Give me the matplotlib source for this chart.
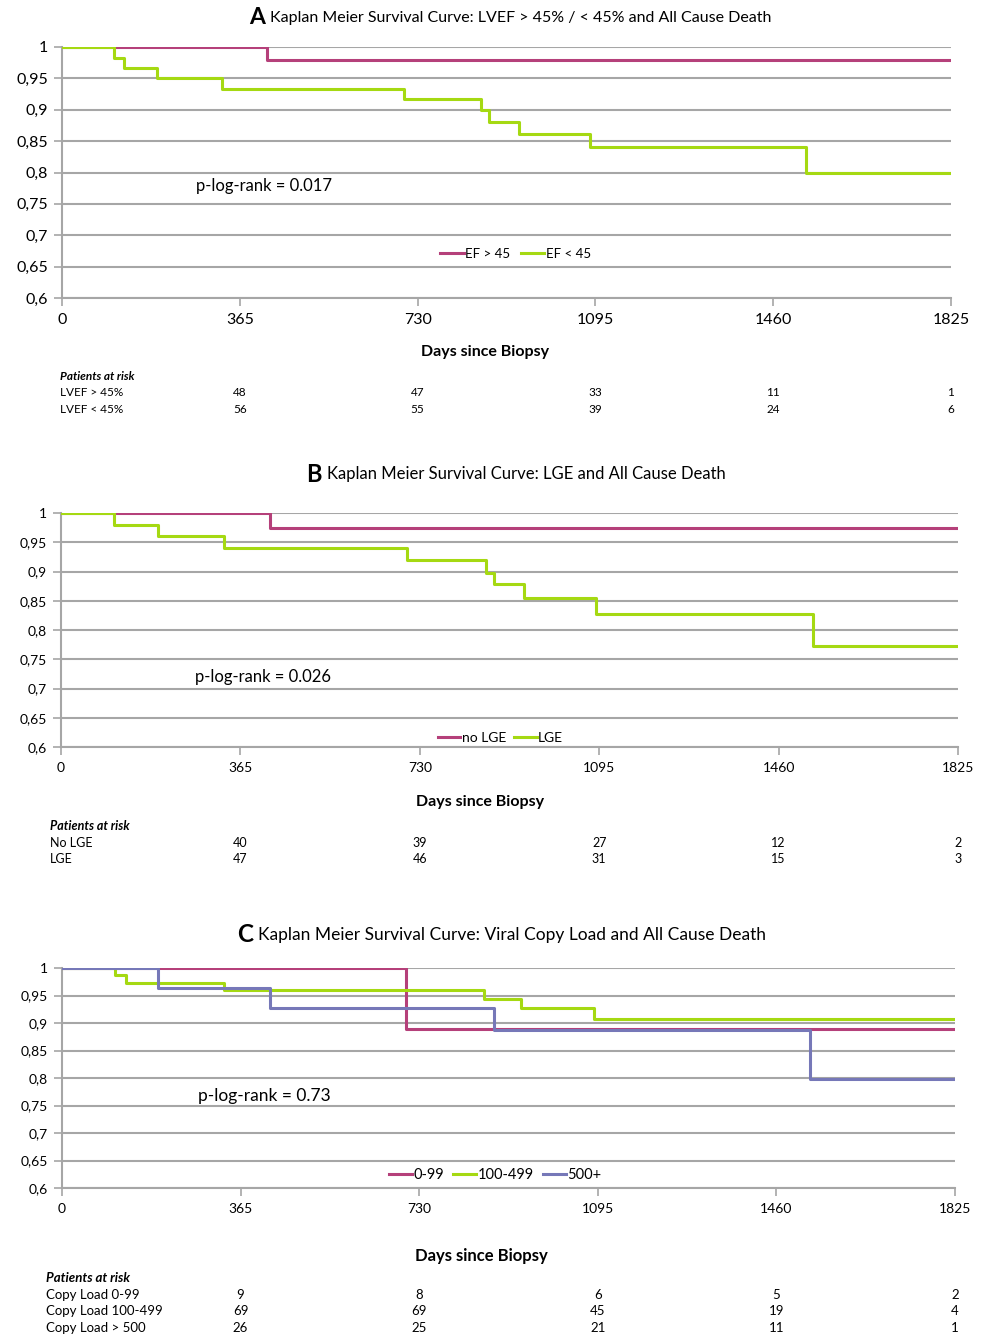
import matplotlib.pyplot as plt
import matplotlib.transforms as mtransforms
from matplotlib.ticker import FuncFormatter

# --- DATA ---
x_ticks = [0, 365, 730, 1095, 1460, 1825]
risk_days = [365, 730, 1095, 1460, 1825]
y_ticks = [0.6, 0.65, 0.7, 0.75, 0.8, 0.85, 0.9, 0.95, 1.0]

# panel A: LVEF
a_ef_hi_t = [0, 421, 1825]
a_ef_hi_s = [1.0, 0.979, 0.979]
a_ef_lo_t = [0, 107, 127, 195, 328, 702, 860, 877, 938, 1084, 1527, 1825]
a_ef_lo_s = [1.0, 0.983, 0.967, 0.95, 0.933, 0.917, 0.90, 0.881, 0.862, 0.840, 0.80, 0.80]
a_risk_labels = ["LVEF > 45%", "LVEF < 45%"]
a_risk = [[48, 47, 33, 11, 1], [56, 55, 39, 24, 6]]

# panel B: LGE
b_nolge_t = [0, 425, 1825]
b_nolge_s = [1.0, 0.975, 0.975]
b_lge_t = [0, 107, 198, 332, 704, 864, 881, 941, 1089, 1529, 1825]
b_lge_s = [1.0, 0.980, 0.960, 0.940, 0.920, 0.897, 0.878, 0.854, 0.827, 0.772, 0.772]
b_risk_labels = ["No LGE", "LGE"]
b_risk = [[40, 39, 27, 12, 2], [47, 46, 31, 15, 3]]

# panel C: viral copy load
c_low_t = [0, 704, 1825]
c_low_s = [1.0, 0.889, 0.889]
c_mid_t = [0, 108, 131, 332, 862, 939, 1087, 1825]
c_mid_s = [1.0, 0.988, 0.973, 0.960, 0.943, 0.928, 0.907, 0.907]
c_high_t = [0, 197, 425, 882, 1529, 1825]
c_high_s = [1.0, 0.963, 0.928, 0.887, 0.799, 0.799]
c_risk_labels = ["Copy Load 0-99", "Copy Load 100-499", "Copy Load > 500"]
c_risk = [[9, 8, 6, 5, 2], [69, 69, 45, 19, 4], [26, 25, 21, 11, 1]]

MAG = "#b5407a"
GRN = "#a5d912"
BLU = "#7678b8"
GRID = "#a6a6a6"

plt.rcParams['font.family'] = ['Lato', 'DejaVu Sans']

W, H = 983, 1336
fig = plt.figure(figsize=(W / 100, H / 100), dpi=100)


def px_axes(left, right, top, bottom):
    return fig.add_axes([left / W, 1 - bottom / H, (right - left) / W, (bottom - top) / H])


def fy(y):
    return 1 - y / H


def setup(ax, tick_fs):
    ax.set_xlim(0, 1825)
    ax.set_ylim(0.6, 1.0)
    ax.set_xticks(x_ticks)
    ax.set_yticks(y_ticks)
    ax.yaxis.set_major_formatter(FuncFormatter(lambda v, p: ("%g" % round(v, 2)).replace(".", ",")))
    ax.grid(axis='y', color=GRID, lw=1.5, zorder=0)
    for s in ['top', 'right']:
        ax.spines[s].set_visible(False)
    for s in ['left', 'bottom']:
        ax.spines[s].set_color(GRID)
        ax.spines[s].set_linewidth(1.5)
    ax.tick_params(axis='both', colors=GRID, labelcolor='black', labelsize=tick_fs,
                   length=6, width=1.2, direction='out')
    ax.tick_params(axis='x', pad=5)
    ax.tick_params(axis='y', pad=4)
    ax.set_facecolor('white')


def title(letter, text, x_letter, y, fs):
    fig.text(x_letter / W, fy(y), letter, ha='right', va='center', fontsize=fs + 5,
             fontweight='bold')
    fig.text((x_letter + 5) / W, fy(y), text, ha='left', va='center', fontsize=fs)


def risk_table(ax, label_x, head_y, row_ys, labels, values, fs):
    tr = mtransforms.blended_transform_factory(ax.transData, fig.transFigure)
    fig.text(label_x / W, fy(head_y), "Patients at risk", ha='left', va='center',
             fontsize=fs, fontweight='bold', style='italic')
    for lab, vals, ry in zip(labels, values, row_ys):
        fig.text(label_x / W, fy(ry), lab, ha='left', va='center', fontsize=fs)
        for xt, v in zip(risk_days, vals):
            ax.text(xt, fy(ry), str(v), transform=tr, ha='center', va='center', fontsize=fs)


# --- PANEL A ---
axA = px_axes(62, 951, 47, 298)
setup(axA, 11.5)
axA.step(a_ef_hi_t, a_ef_hi_s, where='post', color=MAG, lw=2.2, label="EF > 45", zorder=3)
axA.step(a_ef_lo_t, a_ef_lo_s, where='post', color=GRN, lw=2.2, label="EF < 45", zorder=3)
axA.text(275, 0.7785, "p-log-rank = 0.017", ha='left', va='center', fontsize=12)
axA.legend(loc='center', bbox_to_anchor=(0.51, 0.175), ncol=2, frameon=False, fontsize=9.5,
           handlelength=1.8, handletextpad=0.1, columnspacing=0.8)
title("A", "Kaplan Meier Survival Curve: LVEF > 45% / < 45% and All Cause Death", 265, 18, 11.5)
fig.text(485 / W, fy(352), "Days since Biopsy", ha='center', va='center', fontsize=11.5,
         fontweight='bold')
risk_table(axA, 60, 377, [393, 409], a_risk_labels, a_risk, 8.5)

# --- PANEL B ---
axB = px_axes(61, 958, 513, 747)
setup(axB, 10)
axB.step(b_nolge_t, b_nolge_s, where='post', color=MAG, lw=2.2, label="no LGE", zorder=3)
axB.step(b_lge_t, b_lge_s, where='post', color=GRN, lw=2.2, label="LGE", zorder=3)
axB.text(273, 0.7197, "p-log-rank = 0.026", ha='left', va='center', fontsize=12)
axB.legend(loc='center', bbox_to_anchor=(0.49, 0.04), ncol=2, frameon=False, fontsize=10,
           handlelength=1.6, handletextpad=0.1, columnspacing=0.6)
title("B", "Kaplan Meier Survival Curve: LGE and All Cause Death", 322, 474, 12)
fig.text(480 / W, fy(802), "Days since Biopsy", ha='center', va='center', fontsize=11.5,
         fontweight='bold')
risk_table(axB, 50, 826, [843, 859], b_risk_labels, b_risk, 9)

# --- PANEL C ---
axC = px_axes(62, 955, 968, 1188)
setup(axC, 10)
axC.step(c_low_t, c_low_s, where='post', color=MAG, lw=2.2, label="0-99", zorder=3)
axC.step(c_mid_t, c_mid_s, where='post', color=GRN, lw=2.2, label="100-499", zorder=3)
axC.step(c_high_t, c_high_s, where='post', color=BLU, lw=2.2, label="500+", zorder=3)
axC.text(278, 0.767, "p-log-rank = 0.73", ha='left', va='center', fontsize=12.5)
axC.legend(loc='center', bbox_to_anchor=(0.485, 0.06), ncol=3, frameon=False, fontsize=10.5,
           handlelength=1.6, handletextpad=0.1, columnspacing=0.6)
title("C", "Kaplan Meier Survival Curve: Viral Copy Load and All Cause Death", 253, 935, 12.5)
fig.text(481 / W, fy(1256), "Days since Biopsy", ha='center', va='center', fontsize=12,
         fontweight='bold')
risk_table(axC, 46, 1278, [1295, 1311, 1328], c_risk_labels, c_risk, 9.5)

fig.savefig("out.png", dpi=100, facecolor='white')
